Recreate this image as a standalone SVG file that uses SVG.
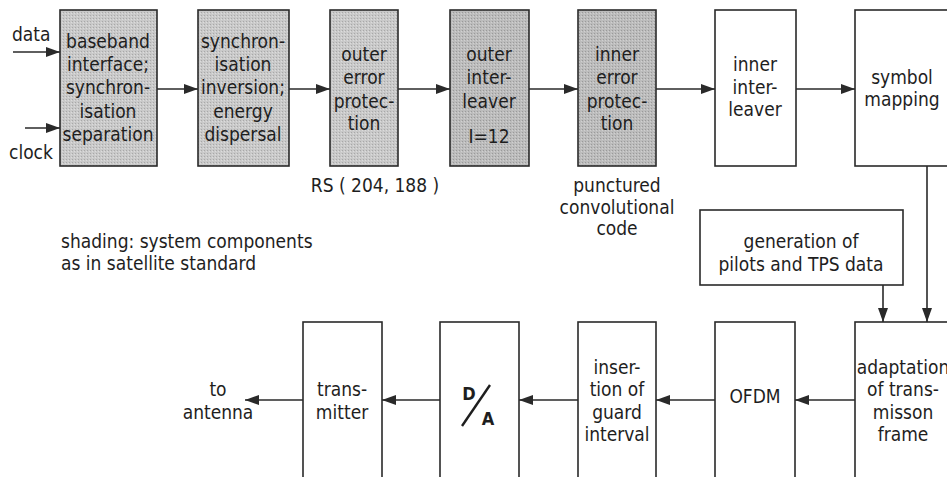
<svg xmlns="http://www.w3.org/2000/svg" width="947" height="477" viewBox="0 0 947 477">
  <defs>
    <marker id="arrow" viewBox="0 0 14 10" refX="14" refY="5" markerWidth="14" markerHeight="10" markerUnits="userSpaceOnUse" orient="auto">
      <path d="M0,0 L14,5 L0,10 z" fill="#2a2a2a"/>
    </marker>
    <pattern id="stipple" width="3" height="3" patternUnits="userSpaceOnUse">
      <rect width="3" height="3" fill="#c9c9c9"/>
      <rect x="0" y="0" width="1" height="1" fill="#a8a8a8"/>
      <rect x="2" y="1" width="1" height="1" fill="#dcdcdc"/>
    </pattern>
    <pattern id="stipple-dark" width="3" height="3" patternUnits="userSpaceOnUse">
      <rect width="3" height="3" fill="#bcbcbc"/>
      <rect x="0" y="0" width="1" height="1" fill="#9a9a9a"/>
      <rect x="2" y="1" width="1" height="1" fill="#d0d0d0"/>
    </pattern>
  </defs>
  <style>
    .box { fill: #ffffff; stroke: #2a2a2a; stroke-width: 1.6; }
    .shade { fill: url(#stipple); }
    .shade-dark { fill: url(#stipple-dark); }
    .wire { fill: none; stroke: #2a2a2a; stroke-width: 1.6; }
    text { font-family: "DejaVu Sans Condensed", "Liberation Sans Narrow", "Liberation Sans", sans-serif; font-stretch: condensed; font-size: 19px; fill: #1e1e1e; text-anchor: middle; }
    .left { text-anchor: start; }
    .da { font-family: "DejaVu Sans", "Liberation Sans", sans-serif; font-weight: bold; font-size: 18px; }
  </style>
  <rect width="947" height="477" fill="#ffffff"/>

  <!-- transmitter chain, top row -->
  <g id="baseband">
    <rect class="box shade" x="60" y="10" width="97" height="156"/>
    <text x="108" y="48">baseband</text>
    <text x="108" y="71">interface;</text>
    <text x="108" y="94">synchron-</text>
    <text x="108" y="118">isation</text>
    <text x="108" y="141">separation</text>
  </g>
  <g id="sync-inversion">
    <rect class="box shade" x="198" y="10" width="91" height="156"/>
    <text x="243" y="48">synchron-</text>
    <text x="243" y="71">isation</text>
    <text x="243" y="94">inversion;</text>
    <text x="243" y="118">energy</text>
    <text x="243" y="141">dispersal</text>
  </g>
  <g id="outer-error">
    <rect class="box shade" x="330" y="10" width="68" height="156"/>
    <text x="364" y="61">outer</text>
    <text x="364" y="84">error</text>
    <text x="364" y="108">protec-</text>
    <text x="364" y="130">tion</text>
  </g>
  <g id="outer-interleaver">
    <rect class="box shade-dark" x="450" y="10" width="79" height="156"/>
    <text x="489" y="61">outer</text>
    <text x="489" y="84">inter-</text>
    <text x="489" y="108">leaver</text>
    <text x="489" y="143">I=12</text>
  </g>
  <g id="inner-error">
    <rect class="box shade-dark" x="578" y="10" width="78" height="156"/>
    <text x="617" y="61">inner</text>
    <text x="617" y="84">error</text>
    <text x="617" y="108">protec-</text>
    <text x="617" y="130">tion</text>
  </g>
  <g id="inner-interleaver">
    <rect class="box" x="715" y="10" width="81" height="156"/>
    <text x="755" y="71">inner</text>
    <text x="755" y="94">inter-</text>
    <text x="755" y="116">leaver</text>
  </g>
  <g id="symbol-mapping">
    <rect class="box" x="855" y="10" width="110" height="156"/>
    <text x="902" y="84">symbol</text>
    <text x="902" y="106">mapping</text>
  </g>
  <g id="pilots-tps">
    <rect class="box" x="700" y="210" width="203" height="75"/>
    <text x="801" y="248">generation of</text>
    <text x="801" y="271">pilots and TPS data</text>
  </g>

  <!-- bottom row -->
  <g id="adaptation">
    <rect class="box" x="855" y="322" width="110" height="170"/>
    <text x="903" y="374">adaptation</text>
    <text x="903" y="396">of trans-</text>
    <text x="903" y="419">misson</text>
    <text x="903" y="441">frame</text>
  </g>
  <g id="ofdm">
    <rect class="box" x="715" y="322" width="80" height="170"/>
    <text x="755" y="403">OFDM</text>
  </g>
  <g id="guard-interval">
    <rect class="box" x="578" y="322" width="78" height="170"/>
    <text x="617" y="374">inser-</text>
    <text x="617" y="396">tion of</text>
    <text x="617" y="419">guard</text>
    <text x="617" y="441">interval</text>
  </g>
  <g id="dac">
    <rect class="box" x="440" y="322" width="79" height="170"/>
    <text class="da" x="469" y="400">D</text>
    <line x1="462" y1="426" x2="490" y2="385" stroke="#1e1e1e" stroke-width="2.4"/>
    <text class="da" x="488" y="425">A</text>
  </g>
  <g id="transmitter">
    <rect class="box" x="303" y="322" width="79" height="170"/>
    <text x="342" y="396">trans-</text>
    <text x="342" y="419">mitter</text>
  </g>

  <!-- free labels -->
  <g id="labels">
    <text class="left" x="12" y="41">data</text>
    <text class="left" x="9" y="159">clock</text>
    <text x="375" y="192">RS ( 204, 188 )</text>
    <text x="617" y="192">punctured</text>
    <text x="617" y="214">convolutional</text>
    <text x="617" y="235">code</text>
    <text class="left" x="61" y="248">shading: system components</text>
    <text class="left" x="61" y="270">as in satellite standard</text>
    <text x="218" y="396">to</text>
    <text x="218" y="419">antenna</text>
  </g>

  <!-- connectors -->
  <g id="connectors">
    <line class="wire" x1="13" y1="52" x2="60" y2="52" marker-end="url(#arrow)"/>
    <line class="wire" x1="25" y1="128" x2="60" y2="128" marker-end="url(#arrow)"/>
    <line class="wire" x1="157" y1="89" x2="198" y2="89" marker-end="url(#arrow)"/>
    <line class="wire" x1="289" y1="89" x2="330" y2="89" marker-end="url(#arrow)"/>
    <line class="wire" x1="398" y1="89" x2="450" y2="89" marker-end="url(#arrow)"/>
    <line class="wire" x1="529" y1="89" x2="578" y2="89" marker-end="url(#arrow)"/>
    <line class="wire" x1="656" y1="89" x2="715" y2="89" marker-end="url(#arrow)"/>
    <line class="wire" x1="796" y1="89" x2="855" y2="89" marker-end="url(#arrow)"/>
    <line class="wire" x1="927" y1="166" x2="927" y2="322" marker-end="url(#arrow)"/>
    <line class="wire" x1="883" y1="285" x2="883" y2="322" marker-end="url(#arrow)"/>
    <line class="wire" x1="855" y1="400" x2="795" y2="400" marker-end="url(#arrow)"/>
    <line class="wire" x1="715" y1="400" x2="656" y2="400" marker-end="url(#arrow)"/>
    <line class="wire" x1="578" y1="400" x2="519" y2="400" marker-end="url(#arrow)"/>
    <line class="wire" x1="440" y1="400" x2="382" y2="400" marker-end="url(#arrow)"/>
    <line class="wire" x1="303" y1="400" x2="245" y2="400" marker-end="url(#arrow)"/>
  </g>
</svg>
